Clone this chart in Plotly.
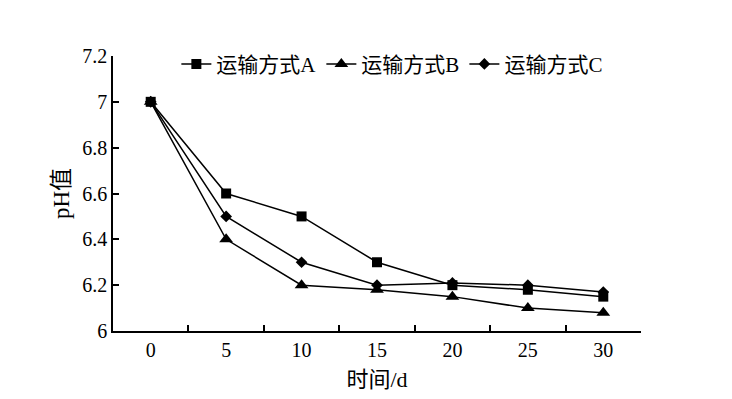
import plotly.graph_objects as go

days = ["0", "5", "10", "15", "20", "25", "30"]
ph_a = [7.0, 6.6, 6.5, 6.3, 6.2, 6.18, 6.15]
ph_b = [7.0, 6.4, 6.2, 6.18, 6.15, 6.1, 6.08]
ph_c = [7.0, 6.5, 6.3, 6.2, 6.21, 6.2, 6.17]
names = ["运输方式A", "运输方式B", "运输方式C"]
symbols = ["square", "triangle-up", "diamond"]
sizes = [10, 12, 9]

font_fam = "Liberation Serif, Noto Sans CJK SC, serif"

fig = go.Figure()
for vals, name, sym, sz in zip([ph_a, ph_b, ph_c], names, symbols, sizes):
    fig.add_trace(go.Scatter(
        x=days, y=vals, name=name, mode="lines+markers",
        line=dict(color="black", width=1.5),
        marker=dict(symbol=sym, size=sz, color="black"),
    ))

fig.update_layout(
    width=732, height=399,
    margin=dict(l=105, r=99, t=48, b=76),
    paper_bgcolor="white", plot_bgcolor="white",
    font=dict(family=font_fam, color="black", size=19),
    showlegend=True,
    legend=dict(orientation="h", x=0.12, y=0.97, xanchor="left", yanchor="middle",
                font=dict(size=21, family=font_fam), bgcolor="rgba(0,0,0,0)",
                itemwidth=30),
    xaxis=dict(
        type="category", range=[-0.5, 6.5], showline=True, linecolor="black", linewidth=1.5,
        ticks="inside", tickson="boundaries", ticklen=6, tickcolor="black", tickwidth=1.5,
        showgrid=False, zeroline=False,
        title=dict(text="时间/d", font=dict(size=22), standoff=12),
        tickfont=dict(size=20),
    ),
    yaxis=dict(
        range=[6, 7.2], dtick=0.2, showline=True, linecolor="black", linewidth=1.5,
        ticks="inside", ticklen=6, tickcolor="black", tickwidth=1.5,
        showgrid=False, zeroline=False,
        title=dict(text="pH值", font=dict(size=23), standoff=6),
        tickfont=dict(size=20),
    ),
)

fig.write_html("out.html")
